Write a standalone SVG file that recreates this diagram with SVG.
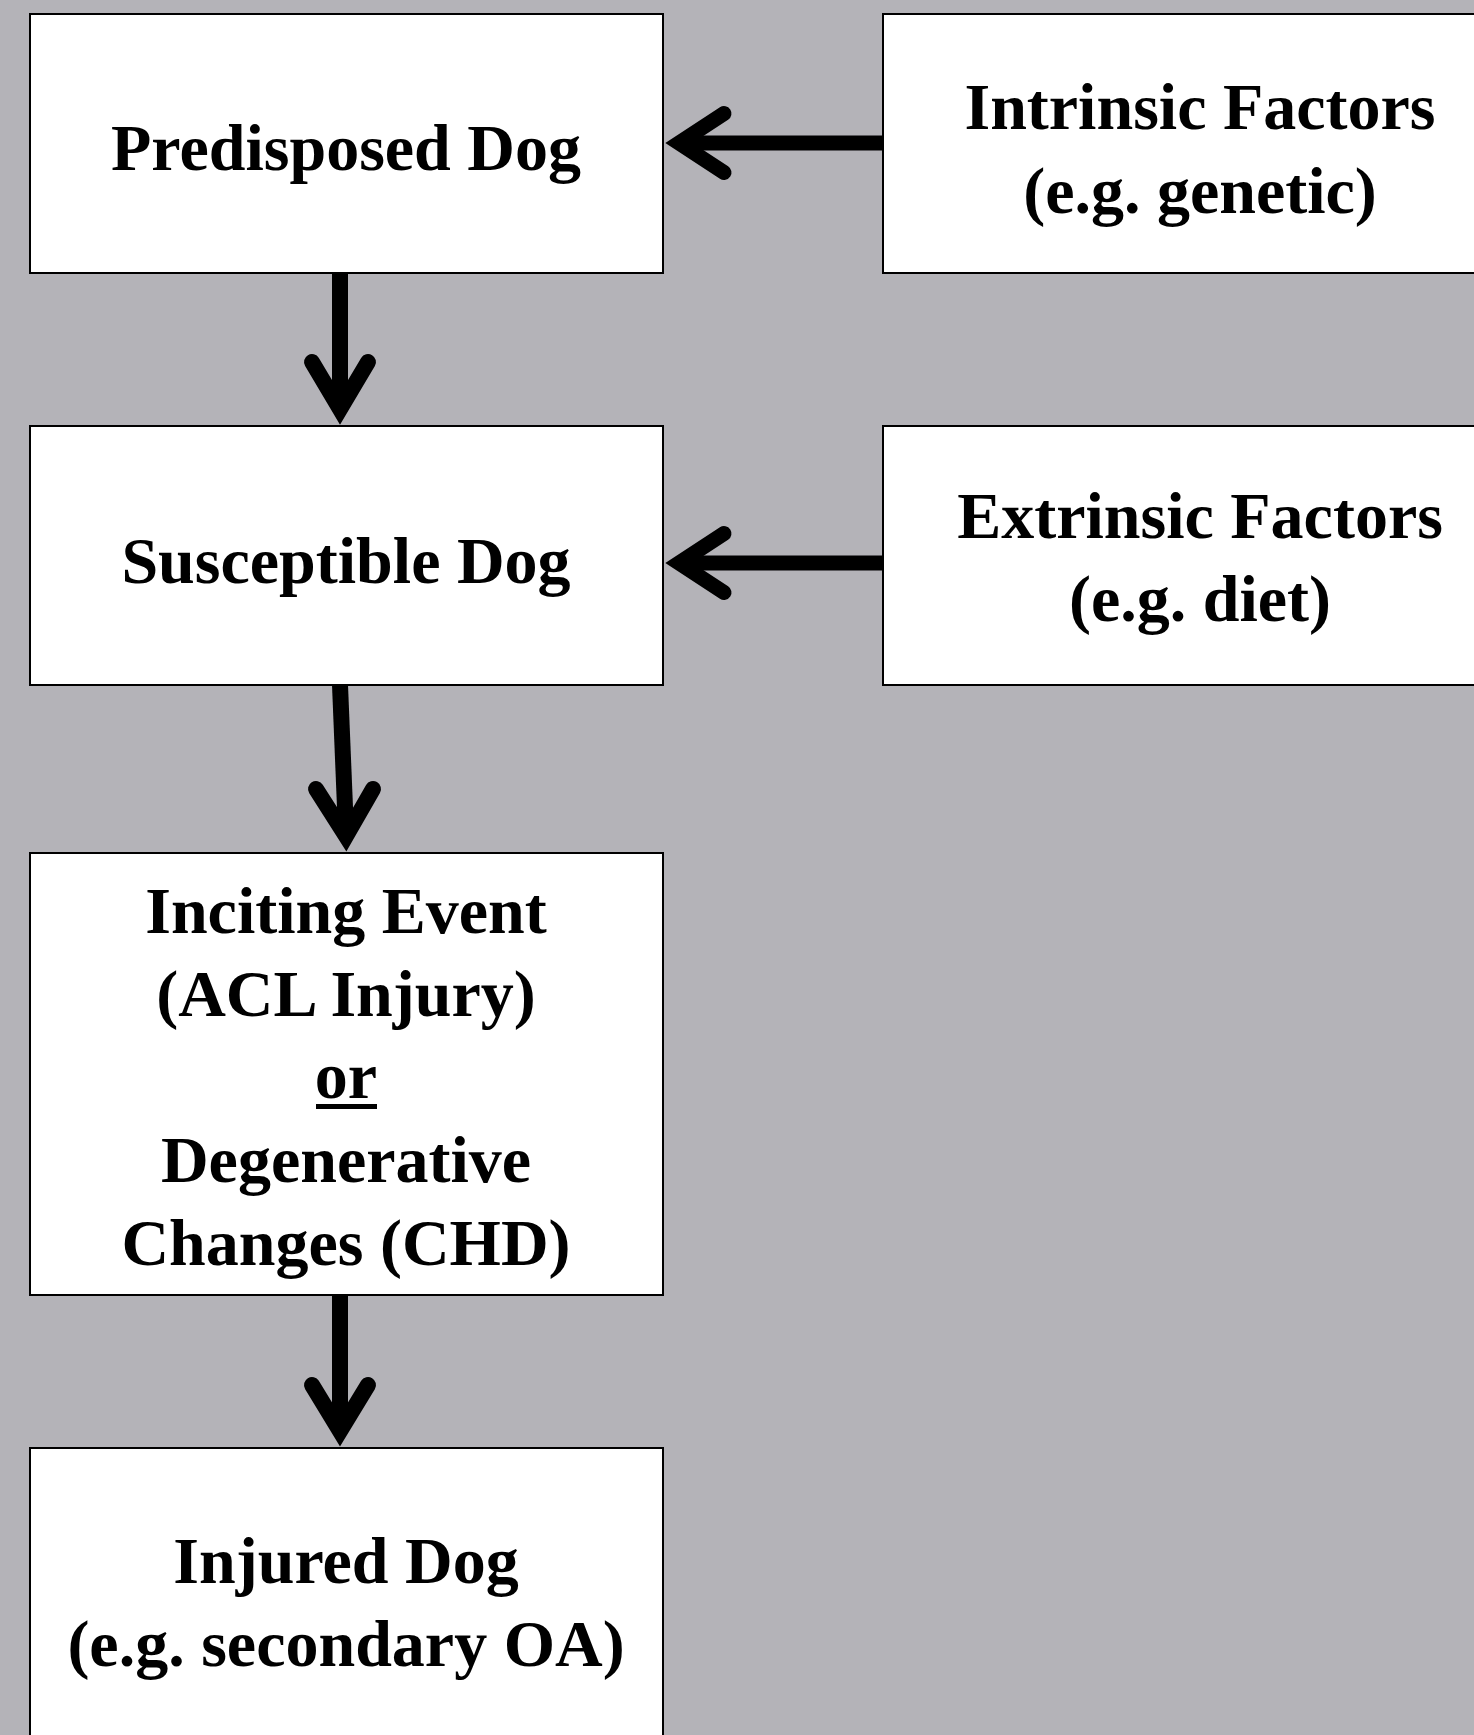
<svg xmlns="http://www.w3.org/2000/svg" width="1474" height="1735" viewBox="0 0 1474 1735">
<style>
.box{fill:#ffffff;stroke:#000000;stroke-width:2}
.t{font-family:"Liberation Serif","Times New Roman",serif;font-weight:bold;font-size:66px;fill:#000000;text-anchor:middle}
.shaft{stroke:#000000;fill:none}
.head{stroke:#000000;fill:none;stroke-linecap:round;stroke-linejoin:miter;stroke-miterlimit:10}
</style>
<rect x="0" y="0" width="1474" height="1735" fill="#b4b3b8"/>
<g id="connectors">
<line class="shaft" x1="883" y1="143" x2="682" y2="143" stroke-width="15"/>
<polyline class="head" points="724,113.5 679,143 724,172.5" stroke-width="15"/>
<line class="shaft" x1="883" y1="563" x2="682" y2="563" stroke-width="15"/>
<polyline class="head" points="724,533.5 679,563 724,592.5" stroke-width="15"/>
<line class="shaft" x1="340" y1="273" x2="340" y2="405" stroke-width="16"/>
<polyline class="head" points="312,362 340,409 368,362" stroke-width="16"/>
<line class="shaft" x1="340" y1="685" x2="346" y2="832" stroke-width="16"/>
<polyline class="head" points="316,789 346,836 373,789" stroke-width="16"/>
<line class="shaft" x1="340" y1="1295" x2="340" y2="1427" stroke-width="16"/>
<polyline class="head" points="312,1385 340,1431 368,1385" stroke-width="16"/>
</g>
<g id="predisposed">
<rect class="box" x="30" y="14" width="633" height="259"/>
<text class="t" x="346" y="170">Predisposed Dog</text>
</g>
<g id="intrinsic">
<rect class="box" x="883" y="14" width="640" height="259"/>
<text class="t" x="1200" y="129">Intrinsic Factors</text>
<text class="t" x="1200" y="213">(e.g. genetic)</text>
</g>
<g id="susceptible">
<rect class="box" x="30" y="426" width="633" height="259"/>
<text class="t" x="346" y="583">Susceptible Dog</text>
</g>
<g id="extrinsic">
<rect class="box" x="883" y="426" width="640" height="259"/>
<text class="t" x="1200" y="538">Extrinsic Factors</text>
<text class="t" x="1200" y="621">(e.g. diet)</text>
</g>
<g id="inciting">
<rect class="box" x="30" y="853" width="633" height="442"/>
<text class="t" x="346" y="933">Inciting Event</text>
<text class="t" x="346" y="1016">(ACL Injury)</text>
<text class="t" x="346" y="1098">or</text>
<rect x="316" y="1104" width="61" height="5" fill="#000000"/>
<text class="t" x="346" y="1182">Degenerative</text>
<text class="t" x="346" y="1265">Changes (CHD)</text>
</g>
<g id="injured">
<rect class="box" x="30" y="1448" width="633" height="300"/>
<text class="t" x="346" y="1583">Injured Dog</text>
<text class="t" x="346" y="1666">(e.g. secondary OA)</text>
</g>
</svg>
